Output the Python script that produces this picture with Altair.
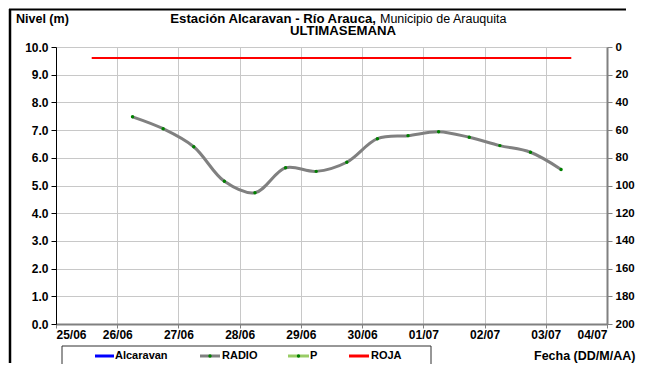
import altair as alt
import pandas as pd

# ---- data ----
fechas_radio = ["2013-06-26 06:00", "2013-06-26 18:00", "2013-06-27 06:00", "2013-06-27 18:00",
                "2013-06-28 06:00", "2013-06-28 18:00", "2013-06-29 06:00", "2013-06-29 18:00",
                "2013-06-30 06:00", "2013-06-30 18:00", "2013-07-01 06:00", "2013-07-01 18:00",
                "2013-07-02 06:00", "2013-07-02 18:00", "2013-07-03 06:00"]
nivel_radio = [7.48, 7.05, 6.40, 5.15, 4.74, 5.64, 5.51, 5.84, 6.69, 6.80, 6.94, 6.74, 6.44, 6.20, 5.58]

fechas_roja = ["2013-06-25 14:00", "2013-07-03 10:00"]
nivel_roja = [9.6, 9.6]

etiquetas_x = ["25/06", "26/06", "27/06", "28/06", "29/06", "30/06", "01/07", "02/07", "03/07", "04/07"]
inicio = pd.Timestamp("2013-06-25 00:00")

def dias(fechas):
    return [(pd.Timestamp(f) - inicio) / pd.Timedelta(days=1) for f in fechas]

df_radio = pd.DataFrame({"dia": dias(fechas_radio), "nivel": nivel_radio})
df_roja = pd.DataFrame({"dia": dias(fechas_roja), "nivel": nivel_roja})

FONT = "Liberation Sans"
GRID = "#c8c8c8"

label_expr = "[" + ",".join("'%s'" % e for e in etiquetas_x) + "][datum.value]"

x_axis = alt.Axis(values=list(range(10)), labelExpr=label_expr, title=None,
                  domainColor="#808080", domainWidth=2, tickColor="#808080",
                  tickSize=4, labelPadding=1, grid=True, gridColor=GRID,
                  labelOverlap=False,
                  labelFont=FONT, labelFontSize=12, labelFontWeight="bold",
                  labelColor="black")
y_axis = alt.Axis(values=[0, 1, 2, 3, 4, 5, 6, 7, 8, 9, 10], format=".1f", title=None,
                  domainColor="black", domainWidth=1, tickColor="black",
                  tickSize=5, labelPadding=3, grid=True, gridColor=GRID,
                  labelOverlap=False,
                  labelFont=FONT, labelFontSize=12, labelFontWeight="bold",
                  labelColor="black")
x_scale = alt.Scale(domain=[0, 9], nice=False, zero=False)
y_scale = alt.Scale(domain=[0, 10], nice=False, zero=True)

def xe():
    return alt.X("dia:Q", scale=x_scale, axis=x_axis)

def ye():
    return alt.Y("nivel:Q", scale=y_scale, axis=y_axis)

roja = alt.Chart(df_roja).mark_line(color="#ff0000", strokeWidth=2).encode(x=xe(), y=ye())
radio_line = alt.Chart(df_radio).mark_line(color="#808080", strokeWidth=3,
                                           interpolate="catmull-rom").encode(x=xe(), y=ye())
radio_pts = alt.Chart(df_radio).mark_point(filled=True, color="#008000", size=12,
                                           opacity=1).encode(x=xe(), y=ye())
left = alt.layer(roja, radio_line, radio_pts)

right = alt.Chart(pd.DataFrame({"p": [0]})).mark_point(opacity=0).encode(
    y=alt.Y("p:Q", scale=alt.Scale(domain=[0, 200], reverse=True, nice=False),
            axis=alt.Axis(orient="right", values=list(range(0, 201, 20)), title=None,
                          domainColor="#808080", domainWidth=2, tickColor="#808080",
                          tickSize=5, labelPadding=3, grid=False, labelOverlap=False,
                          labelFont=FONT, labelFontSize=11.5, labelFontWeight="bold",
                          labelColor="black")))

one = pd.DataFrame({"a": [0]})

def texto(t, x, y, align="left", bold=True, size=12.5):
    return alt.Chart(one).mark_text(text=t, align=align, baseline="middle", font=FONT,
                                    fontSize=size, fontWeight="bold" if bold else "normal",
                                    color="black").encode(x=alt.value(x), y=alt.value(y))

def seg(x1, x2, y, color, w=3):
    return alt.Chart(one).mark_rule(color=color, strokeWidth=w).encode(
        x=alt.value(x1), x2=alt.value(x2), y=alt.value(y))

def dot(x, y):
    return alt.Chart(one).mark_point(filled=True, color="#008000", size=12, opacity=1).encode(
        x=alt.value(x), y=alt.value(y))

deco = [
    # outer frame (left and top edges), kept inside the drawing
    alt.Chart(one).mark_rule(color="black", strokeWidth=2.5).encode(
        x=alt.value(-46), y=alt.value(-38), y2=alt.value(316)),
    alt.Chart(one).mark_rule(color="black", strokeWidth=2).encode(
        x=alt.value(-47), x2=alt.value(570), y=alt.value(-37.5)),
    texto("Nivel (m)", -40, -28),
    texto("Estación Alcaravan - Río Arauca,", 320, -28, align="right", size=13.2),
    texto("Municipio de Arauquita", 324, -28, bold=False),
    texto("ULTIMASEMANA", 287, -16, align="center", size=13.2),
    texto("Fecha (DD/M/AA)", 478, 309),
    alt.Chart(one).mark_rect(fill="white", stroke="#303030", strokeWidth=1).encode(
        x=alt.value(6), x2=alt.value(375), y=alt.value(299), y2=alt.value(319)),
    seg(39, 58, 309, "#0000ff"),
    texto("Alcaravan", 59, 309, size=11),
    seg(144, 164, 309, "#808080"),
    dot(154, 309),
    texto("RADIO", 166, 309, size=11),
    seg(232, 253, 309, "#99cc66"),
    dot(242.5, 309),
    texto("P", 254, 309, size=11),
    seg(293, 313, 309, "#ff0000"),
    texto("ROJA", 315, 309, size=11),
]

chart = alt.layer(left, right, *deco).resolve_scale(y="independent").properties(
    width=551, height=277, autosize="none",
    padding={"left": 48, "top": 39, "right": 30, "bottom": 40},
).configure_view(stroke=None)

chart.save("out.html", embed_options={"renderer": "svg", "actions": False})
